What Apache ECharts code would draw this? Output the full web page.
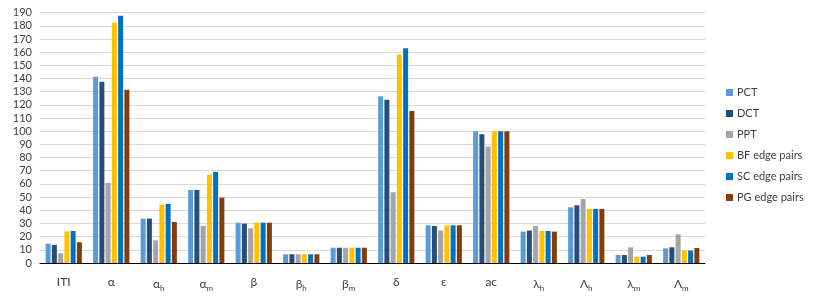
<!DOCTYPE html>
<html>
<head>
<meta charset="utf-8">
<script src="https://cdn.jsdelivr.net/npm/echarts@6/dist/echarts.min.js"></script>
<style>html,body{margin:0;padding:0;background:#fff;}#c{width:817px;height:297px;}</style>
</head>
<body>
<div id="c"></div>
<script>
const categories = ['ITI', 'α', 'α{s|h}', 'α{s|m}', 'β', 'β{s|h}', 'β{s|m}', 'δ', 'ε', 'ac', 'λ{s|h}', 'Λ{s|h}', 'λ{s|m}', 'Λ{s|m}'];
const seriesNames = ['PCT', 'DCT', 'PPT', 'BF edge pairs', 'SC edge pairs', 'PG edge pairs'];
const PCT = [14.7, 141.3, 33.7, 55.4, 30.6, 6.6, 11.6, 126.6, 28.6, 100, 23.8, 42.3, 6.1, 11.1];
const DCT = [13.7, 137.5, 33.7, 55.4, 29.9, 6.6, 11.6, 123.8, 28.1, 97.7, 24.6, 43.8, 6.1, 11.9];
const PPT = [7.3, 60.8, 17.2, 28.1, 26.3, 6.6, 11.6, 53.7, 24.6, 88.4, 28.1, 48.6, 11.9, 21.8];
const BF = [24.0, 182.3, 44.3, 67.1, 30.6, 6.6, 11.6, 158.2, 28.6, 100, 24.3, 41.0, 4.8, 9.4];
const SC = [24.3, 187.6, 44.8, 69.1, 30.6, 6.6, 11.6, 163.0, 28.6, 100, 24.3, 41.0, 4.8, 9.4];
const PG = [15.7, 131.4, 31.1, 49.6, 30.6, 6.6, 11.6, 115.4, 28.6, 100, 23.8, 41.0, 6.1, 11.4];
const values = [PCT, DCT, PPT, BF, SC, PG];
const colors = ['#5B9BD5', '#264E79', '#A5A5A5', '#FFC000', '#0070C0', '#843C0C'];

const chart = echarts.init(document.getElementById('c'));
chart.setOption({
  animation: false,
  textStyle: { fontFamily: 'Lato, "Open Sans", sans-serif' },
  grid: { left: 40, right: 112, top: 12.6, bottom: 34 },
  legend: {
    orient: 'vertical', left: 721, top: 82,
    itemWidth: 7, itemHeight: 7, itemGap: 10,
    icon: 'rect',
    textStyle: { fontSize: 11, color: '#404040', padding: [0, 0, 0, -1] },
    data: seriesNames
  },
  xAxis: {
    type: 'category', data: categories,
    axisLine: { lineStyle: { color: '#000', width: 1.2 } },
    axisTick: { show: false },
    axisLabel: {
      interval: 0,
      margin: 13, fontSize: 12, color: '#404040',
      rich: { s: { fontSize: 8, color: '#404040', padding: [8, 0, 0, 0] } }
    }
  },
  yAxis: {
    type: 'value', min: 0, max: 190, interval: 10,
    axisLine: { show: false }, axisTick: { show: false },
    axisLabel: { fontSize: 11, color: '#404040', margin: 8 },
    splitLine: { lineStyle: { color: '#D9D9D9', width: 1 } }
  },
  series: seriesNames.map((n, i) => ({
    name: n, type: 'bar', data: values[i],
    barWidth: 5, barGap: '25%',
    itemStyle: { color: colors[i] }
  }))
});
</script>
</body>
</html>
